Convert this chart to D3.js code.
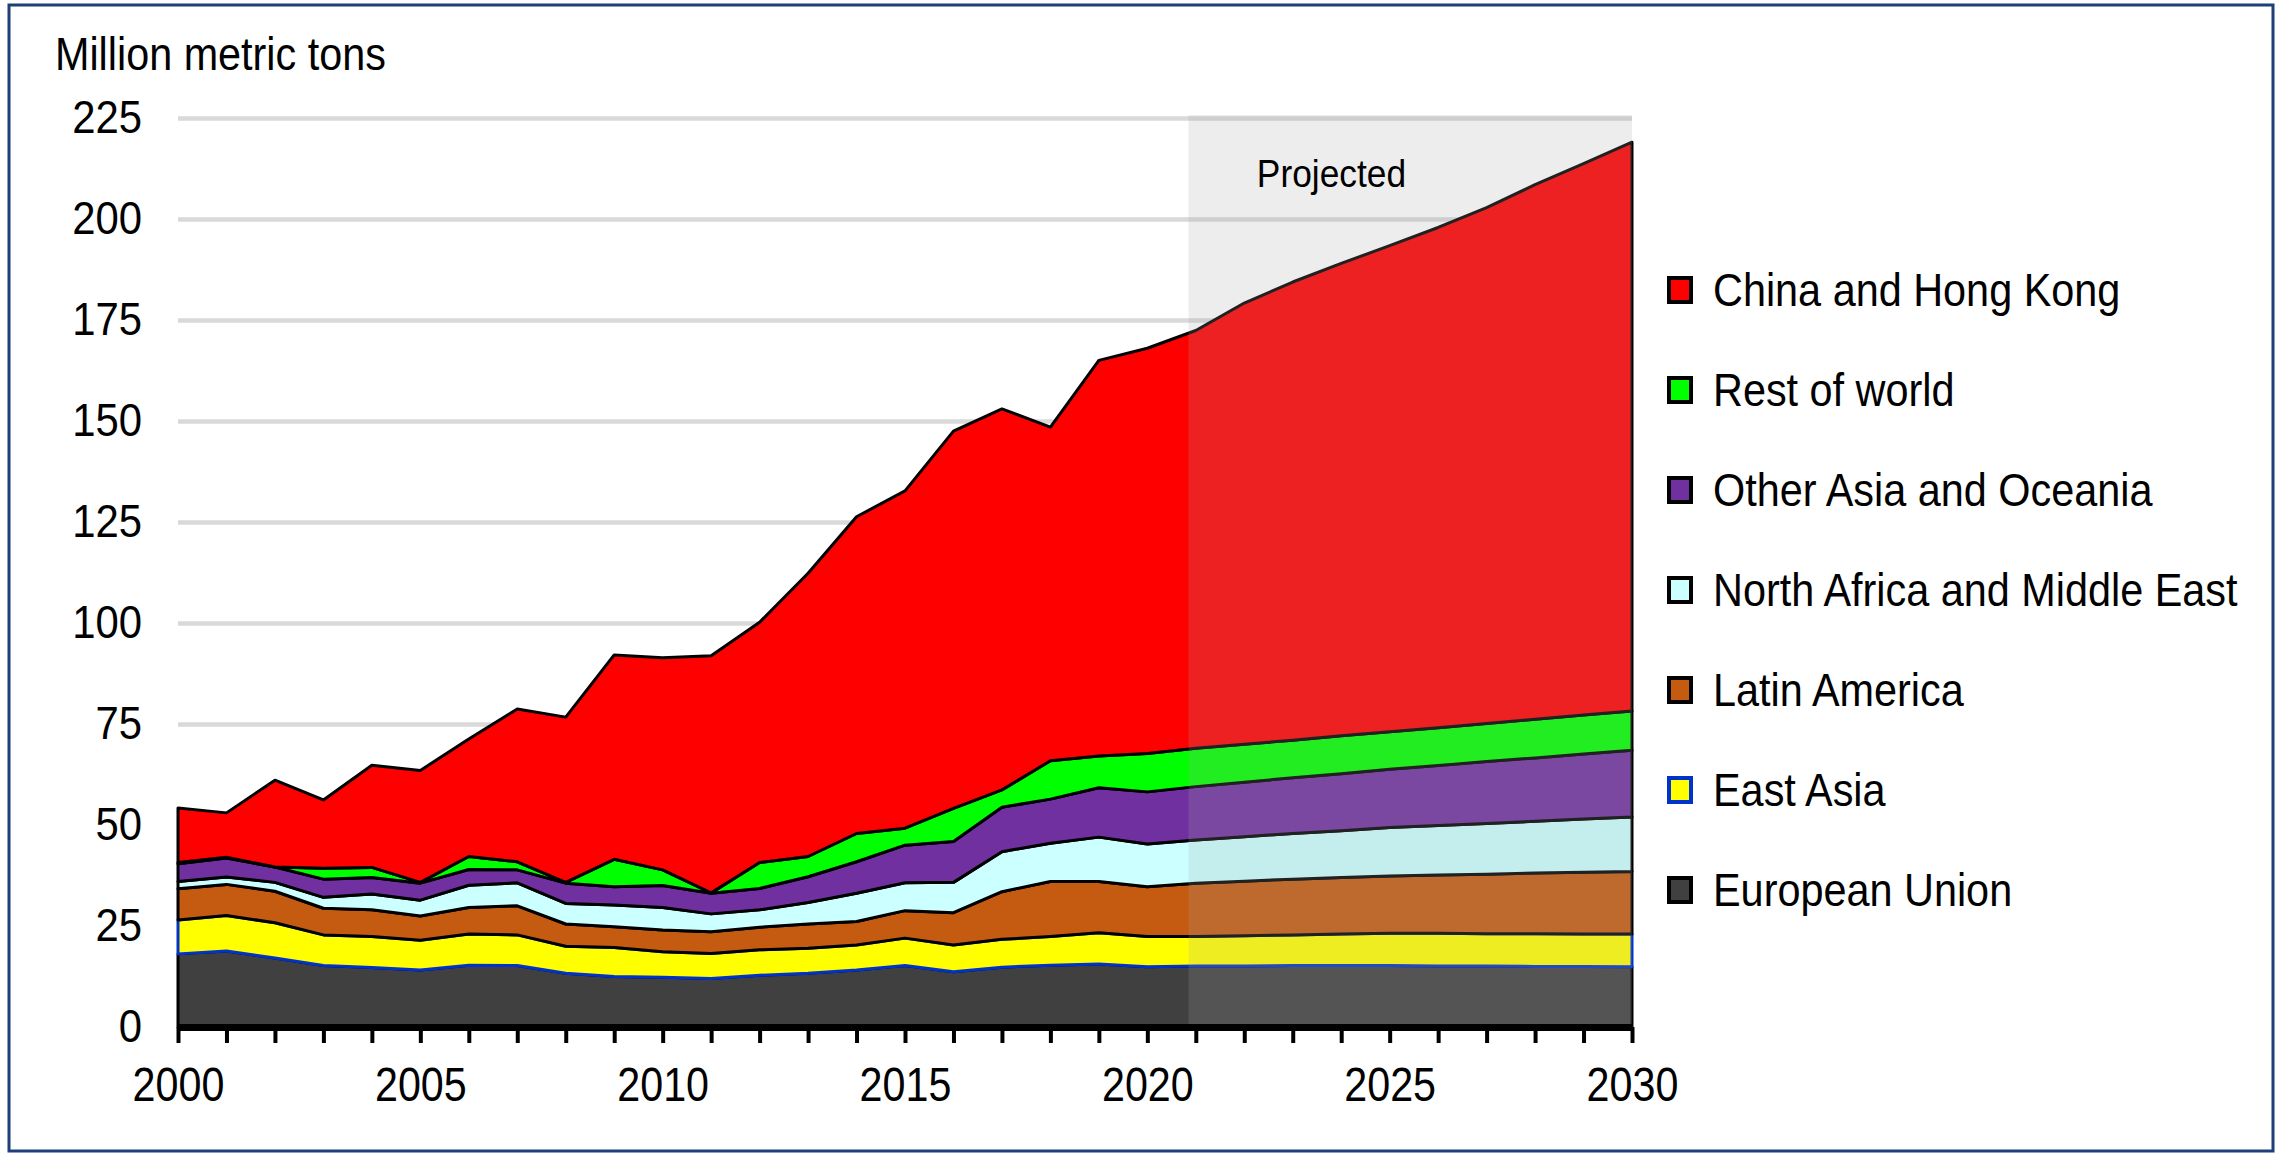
<!DOCTYPE html>
<html>
<head>
<meta charset="utf-8">
<script src="https://cdn.jsdelivr.net/npm/d3@7"></script>
<style>
  html, body { margin: 0; padding: 0; background: #fff; }
  svg { display: block; font-family: "Liberation Sans", Arial, Helvetica, sans-serif; }
</style>
</head>
<body>
<div id="chart"></div>
<script>
// data, million metric tons
const years = d3.range(2000, 2031);

const europeanUnion = [18.1, 18.8, 17.1, 15.2, 14.7, 14.1, 15.3, 15.2, 13.3, 12.5, 12.3, 12.0, 12.8, 13.3, 14.1, 15.2,
  13.7, 14.8, 15.3, 15.6, 14.9, 15.1, 15.1, 15.2, 15.2, 15.2, 15.1, 15.1, 15.0, 15.0, 14.9];
const eastAsia = [8.4, 8.8, 8.7, 7.6, 7.7, 7.4, 7.7, 7.6, 6.7, 7.2, 6.3, 6.2, 6.3, 6.2, 6.2, 6.8,
  6.6, 6.9, 7.1, 7.7, 7.5, 7.3, 7.5, 7.6, 7.8, 8.0, 8.1, 8.0, 8.1, 8.0, 8.1];
const latinAmerica = [7.7, 7.7, 7.8, 6.6, 6.6, 6.0, 6.6, 7.2, 5.5, 5.1, 5.4, 5.4, 5.6, 6.0, 5.8, 6.8,
  8.0, 11.8, 13.6, 12.7, 12.3, 13.2, 13.5, 13.8, 14.0, 14.2, 14.4, 14.7, 15.0, 15.3, 15.5];
const northAfricaMiddleEast = [1.8, 1.8, 2.2, 2.7, 3.9, 3.9, 5.5, 5.7, 5.1, 5.4, 5.6, 4.4, 4.3, 5.3, 7.0, 6.9,
  7.5, 9.9, 9.5, 11.0, 10.6, 10.7, 11.0, 11.3, 11.6, 12.0, 12.3, 12.6, 12.8, 13.2, 13.5];
const otherAsiaOceania = [4.4, 4.7, 3.8, 4.5, 4.1, 4.2, 3.9, 3.2, 5.0, 4.5, 5.4, 5.1, 5.3, 6.4, 7.8, 9.3,
  10.1, 11.0, 10.9, 12.2, 12.9, 13.2, 13.5, 13.8, 14.1, 14.4, 14.8, 15.3, 15.7, 16.1, 16.5];
const restOfWorld = [0.3, 0.2, 0.0, 2.7, 2.5, 0.2, 3.2, 2.0, 0.2, 6.8, 3.9, 0.1, 6.4, 5.0, 7.0, 4.2,
  8.2, 4.3, 9.5, 7.9, 9.5, 9.5, 9.4, 9.3, 9.4, 9.3, 9.4, 9.4, 9.6, 9.6, 9.7];
const chinaHongKong = [13.5, 11.0, 21.5, 16.9, 25.3, 27.7, 29.1, 37.8, 40.9, 50.6, 52.5, 58.7, 59.5, 70.1, 78.4, 83.5,
  93.4, 94.3, 82.6, 97.9, 100.3, 103.4, 109.2, 113.4, 116.9, 120.3, 123.8, 127.7, 132.3, 136.5, 140.8];

// bottom to top stacking order
const seriesKeys = ['eu', 'ea', 'la', 'name', 'oa', 'row', 'cn'];
const seriesNames = ['European Union', 'East Asia', 'Latin America', 'North Africa and Middle East',
  'Other Asia and Oceania', 'Rest of world', 'China and Hong Kong'];
const seriesValues = [europeanUnion, eastAsia, latinAmerica, northAfricaMiddleEast, otherAsiaOceania, restOfWorld, chinaHongKong];
const fills = ['#404040', '#ffff00', '#c55a11', '#ccffff', '#7030a0', '#00ff00', '#ff0000'];
const strokes = ['#000', '#0033cc', '#000', '#000', '#000', '#000', '#000'];

const yTicks = [0, 25, 50, 75, 100, 125, 150, 175, 200, 225];
const xLabelYears = [2000, 2005, 2010, 2015, 2020, 2025, 2030];
const projectedFrom = 2020.85;

const W = 2285, H = 1155;
const plot = { left: 178, right: 1632, top: 118, bottom: 1027 };

const rows = years.map((yr, i) => {
  const r = { year: yr };
  seriesKeys.forEach((k, j) => { r[k] = seriesValues[j][i]; });
  return r;
});

const x = d3.scaleLinear().domain([2000, 2030]).range([plot.left, plot.right]);
const y = d3.scaleLinear().domain([0, 225]).range([plot.bottom, plot.top]);

const svg = d3.select('#chart').append('svg')
  .attr('width', W)
  .attr('height', H)
  .attr('viewBox', `0 0 ${W} ${H}`);

// y axis: labels + gridlines
const yAxis = svg.append('g')
  .attr('transform', `translate(${plot.left},0)`)
  .call(d3.axisLeft(y).tickValues(yTicks).tickSize(-(plot.right - plot.left)).tickPadding(36 / 0.91));
yAxis.select('.domain').remove();
yAxis.selectAll('.tick line')
  .attr('stroke', '#d9d9d9')
  .attr('stroke-width', 4.5);
yAxis.selectAll('.tick text')
  .attr('fill', '#000')
  .attr('font-size', 46)
  .attr('transform', 'scale(0.91,1)')
  .style('font-family', '"Liberation Sans", Arial, sans-serif');

// stacked areas
const stacked = d3.stack().keys(seriesKeys)(rows);
const area = d3.area()
  .x(d => x(d.data.year))
  .y0(d => y(d[0]))
  .y1(d => y(d[1]));

svg.append('g')
  .selectAll('path')
  .data(stacked)
  .join('path')
  .attr('d', area)
  .attr('fill', (d, i) => fills[i])
  .attr('stroke', (d, i) => strokes[i])
  .attr('stroke-width', 3)
  .attr('stroke-linejoin', 'round');

// projected shading, laid over the areas
svg.append('rect')
  .attr('x', x(projectedFrom))
  .attr('y', y(225) - 3)
  .attr('width', x(2030) - x(projectedFrom))
  .attr('height', y(0) - y(225) + 3)
  .attr('fill', 'rgb(163,163,163)')
  .attr('fill-opacity', 0.2);

svg.append('text')
  .attr('transform', `translate(${x(2023.8)},187) scale(0.93,1)`)
  .attr('text-anchor', 'middle')
  .attr('font-size', 38)
  .attr('fill', '#000')
  .text('Projected');

// x axis
const xAxis = svg.append('g')
  .attr('transform', `translate(0,${plot.bottom})`)
  .call(d3.axisBottom(x)
    .tickValues(years)
    .tickSizeInner(16)
    .tickSizeOuter(0)
    .tickPadding(24)
    .tickFormat(d => xLabelYears.includes(d) ? d : ''));
xAxis.select('.domain')
  .attr('stroke', '#000')
  .attr('stroke-width', 7);
xAxis.selectAll('.tick line')
  .attr('stroke', '#000')
  .attr('stroke-width', 4);
xAxis.selectAll('.tick text')
  .attr('fill', '#000')
  .attr('font-size', 48)
  .attr('transform', 'scale(0.86,1)')
  .style('font-family', '"Liberation Sans", Arial, sans-serif');

// axis title
svg.append('text')
  .attr('transform', 'translate(55,70) scale(0.88,1)')
  .attr('font-size', 47)
  .attr('fill', '#000')
  .text('Million metric tons');

// legend, top entry is the top layer
const legendOrder = d3.range(seriesKeys.length).reverse();
const legend = svg.append('g')
  .selectAll('g')
  .data(legendOrder)
  .join('g')
  .attr('transform', (d, i) => `translate(1669,${290 + i * 100})`);

legend.append('rect')
  .attr('x', 0)
  .attr('y', -12)
  .attr('width', 22)
  .attr('height', 24)
  .attr('fill', d => fills[d])
  .attr('stroke', d => strokes[d])
  .attr('stroke-width', 4);

legend.append('text')
  .attr('transform', 'translate(44,16) scale(0.9,1)')
  .attr('font-size', 46)
  .attr('fill', '#000')
  .text(d => seriesNames[d]);

// outer frame
svg.append('rect')
  .attr('x', 9)
  .attr('y', 5)
  .attr('width', 2264)
  .attr('height', 1146)
  .attr('fill', 'none')
  .attr('stroke', '#1f3f77')
  .attr('stroke-width', 3);
</script>
</body>
</html>
